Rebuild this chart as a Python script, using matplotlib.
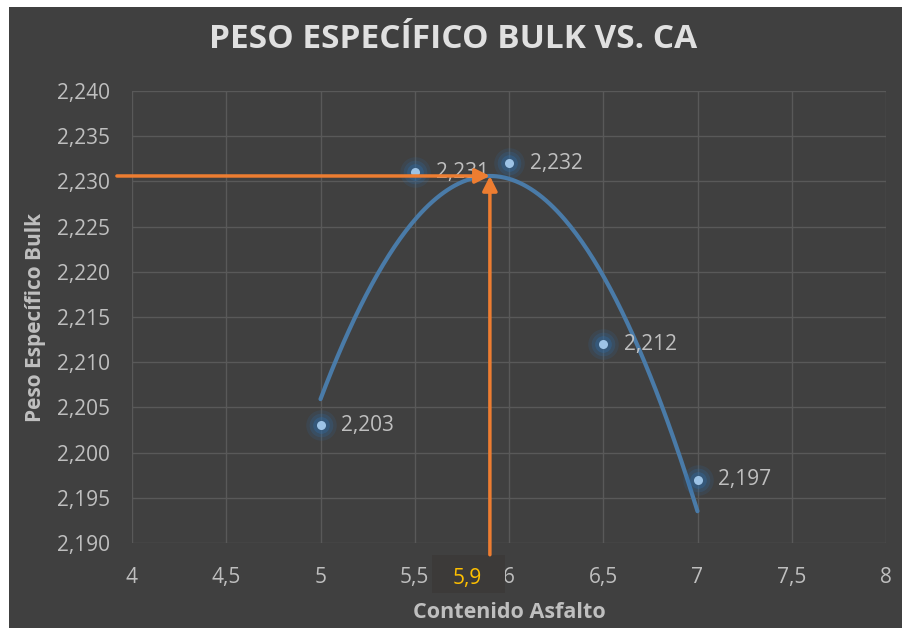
import numpy as np
import matplotlib.pyplot as plt
from matplotlib.patches import Rectangle

# Contenido de asfalto (%) vs peso especifico bulk
contenido = [5.0, 5.5, 6.0, 6.5, 7.0]
peso_bulk = [2.203, 2.231, 2.232, 2.212, 2.197]
etiquetas = ["2,203", "2,231", "2,232", "2,212", "2,197"]
x_ticks = [4, 4.5, 5, 5.5, 6, 6.5, 7, 7.5, 8]
x_labels = ["4", "4,5", "5", "5,5", "6", "6,5", "7", "7,5", "8"]
y_ticks = [2.190, 2.195, 2.200, 2.205, 2.210, 2.215, 2.220, 2.225, 2.230, 2.235, 2.240]
y_labels = ["2,190", "2,195", "2,200", "2,205", "2,210", "2,215",
            "2,220", "2,225", "2,230", "2,235", "2,240"]
optimo_label = "5,9"

BG = "#404040"
GRID = "#595959"
TXT = "#BFBFBF"
ORANGE = "#ED7D31"
LINE = "#4A7BA8"

plt.rcParams['font.family'] = ['Open Sans', 'DejaVu Sans']

fig = plt.figure(figsize=(9.02, 6.28), dpi=100, facecolor="white")

# dark chart area behind everything
bg = fig.add_axes([9 / 902, 0, 1 - 9 / 902, 1 - 7 / 628], zorder=-1)
bg.set_facecolor(BG)
bg.set_xticks([])
bg.set_yticks([])
for s in bg.spines.values():
    s.set_visible(False)

ax = fig.add_axes([132 / 902, 1 - 543 / 628, (886 - 132) / 902, (543 - 91) / 628])
ax.set_facecolor(BG)
ax.set_xlim(4, 8)
ax.set_ylim(2.190, 2.240)

ax.set_xticks(x_ticks)
ax.set_xticklabels(x_labels)
ax.set_yticks(y_ticks)
ax.set_yticklabels(y_labels)
ax.tick_params(colors=TXT, labelsize=15, length=0)
ax.tick_params(axis="x", pad=17)
ax.tick_params(axis="y", pad=16)
ax.grid(True, color=GRID, linewidth=1)
ax.set_axisbelow(True)
for s in ax.spines.values():
    s.set_visible(False)

# polynomial trendline (order 2)
coef = np.polyfit(contenido, peso_bulk, 2)
xs = np.linspace(contenido[0], contenido[-1], 200)
ax.plot(xs, np.polyval(coef, xs), color=LINE, linewidth=3, zorder=3,
        solid_capstyle="round")

# points with soft glow
for size, alpha in [(22, 0.15), (17, 0.22), (12, 0.35)]:
    ax.plot(contenido, peso_bulk, "o", color="#2E6DA8", markersize=size,
            alpha=alpha, markeredgewidth=0, zorder=4)
ax.plot(contenido, peso_bulk, "o", color="#9DC3E6", markersize=6.5,
        markeredgewidth=0, zorder=5)

for x, y, t in zip(contenido, peso_bulk, etiquetas):
    ax.annotate(t, (x, y), xytext=(15, 0), textcoords="offset points",
                color=TXT, fontsize=15, va="center", ha="left", zorder=6)

# optimum from trendline vertex
x_opt = -coef[1] / (2 * coef[0])
y_opt = np.polyval(coef, x_opt)

ax.annotate("", xy=(x_opt, y_opt), xytext=(3.92, y_opt),
            arrowprops=dict(arrowstyle="-|>", color=ORANGE, lw=2.5,
                            mutation_scale=22, shrinkA=0, shrinkB=0),
            annotation_clip=False, zorder=7)
ax.annotate("", xy=(x_opt, y_opt), xytext=(x_opt, 2.1887),
            arrowprops=dict(arrowstyle="-|>", color=ORANGE, lw=2.5,
                            mutation_scale=22, shrinkA=0, shrinkB=0),
            annotation_clip=False, zorder=7)

# label box for the optimum under the axis
ax.add_patch(Rectangle((5.59, 2.1845), 0.39, 0.0042, facecolor="#3C3A39",
                       edgecolor="none", clip_on=False, zorder=6))
ax.text(5.78, 2.1861, optimo_label, color="#FFC000", fontsize=15,
        ha="center", va="center", zorder=8)

ax.set_xlabel("Contenido Asfalto", color=TXT, fontsize=15.5,
              fontweight="bold", labelpad=10)
ax.set_ylabel("Peso Específico Bulk", color=TXT, fontsize=15,
              fontweight="bold", labelpad=8)
fig.text(0.502, 1 - 39 / 628, "PESO ESPECÍFICO BULK VS. CA", color="#E0E0E0",
         fontsize=24, fontweight="bold", ha="center", va="center")

fig.savefig("out.png", dpi=100, facecolor="white")
